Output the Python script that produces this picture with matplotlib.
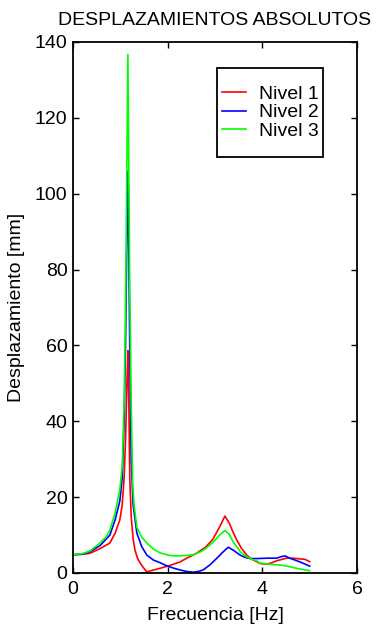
import numpy as np
import matplotlib.pyplot as plt
from matplotlib.patches import Rectangle

plt.rcParams['font.family'] = ['Liberation Sans', 'DejaVu Sans']

# Respuesta en frecuencia de cada nivel
f_n1 = [0, 0.2, 0.36, 0.57, 0.78, 0.89, 0.99, 1.04, 1.08, 1.11, 1.14, 1.16,
        1.18, 1.20, 1.23, 1.27, 1.31, 1.36, 1.42, 1.5, 1.56, 1.8, 2.0, 2.26,
        2.45, 2.61, 2.8, 2.95, 3.1, 3.21, 3.3, 3.38, 3.46, 3.56, 3.67, 3.78,
        3.88, 3.95, 4.08, 4.2, 4.3, 4.51, 4.65, 4.8, 4.9, 5.0]
d_n1 = [4.8, 4.9, 5.2, 6.4, 7.9, 10.5, 14, 18, 25, 35, 50, 58.6,
        45, 25, 14.8, 9, 6, 4, 2.6, 1.2, 0.3, 1.1, 1.8, 2.9,
        4.2, 5.2, 6.8, 8.8, 12.2, 15.0, 13.2, 10.8, 8.7, 6.5, 4.7, 3.6,
        3.0, 2.5, 2.3, 2.7, 3.2, 3.9, 3.9, 3.7, 3.6, 3.0]

f_n2 = [0, 0.2, 0.36, 0.57, 0.78, 0.89, 0.99, 1.04, 1.08, 1.11, 1.14, 1.16,
        1.18, 1.20, 1.23, 1.27, 1.35, 1.45, 1.56, 1.7, 1.84, 2.0, 2.12, 2.26,
        2.4, 2.54, 2.65, 2.75, 2.9, 3.04, 3.15, 3.28, 3.4, 3.53, 3.64, 3.74,
        3.9, 4.1, 4.3, 4.4, 4.48, 4.58, 4.8, 5.0]
d_n2 = [4.8, 5.0, 5.6, 7.2, 10, 14, 19, 25, 40, 60, 90, 106,
        85, 58, 30, 18, 10.5, 7, 4.7, 3.4, 2.7, 1.8, 1.3, 0.8,
        0.4, 0.2, 0.4, 0.8, 2.2, 3.9, 5.3, 6.8, 5.9, 4.7, 4.1, 3.8,
        3.8, 3.9, 3.9, 4.3, 4.5, 3.9, 2.9, 1.8]

f_n3 = [0, 0.2, 0.36, 0.57, 0.7, 0.78, 0.89, 0.99, 1.04, 1.08, 1.11, 1.14,
        1.16, 1.18, 1.20, 1.23, 1.26, 1.29, 1.35, 1.45, 1.56, 1.7, 1.84, 2.05,
        2.2, 2.4, 2.54, 2.7, 2.82, 2.95, 3.1, 3.21, 3.3, 3.38, 3.46, 3.55,
        3.67, 3.78, 3.88, 3.95, 4.16, 4.44, 4.6, 4.73, 5.0]
d_n3 = [4.8, 5.1, 5.8, 7.9, 9.5, 11.3, 15.8, 22, 28, 45, 70, 110,
        136.7, 105, 75, 45, 24, 18, 12, 9.5, 7.9, 6.3, 5.3, 4.6,
        4.5, 4.6, 4.8, 5.6, 6.6, 8.0, 10.0, 11.2, 10.2, 8.3, 6.9, 5.4,
        4.3, 3.6, 3.2, 2.6, 2.3, 2.0, 1.6, 1.2, 0.6]

fig = plt.figure(figsize=(3.77, 6.32), dpi=100)
ax = fig.add_axes([0.1936, 0.0934, 0.7533, 0.8402])

ax.plot(f_n1, d_n1, color='#ff0000', lw=1.2, label='Nivel 1')
ax.plot(f_n2, d_n2, color='#0000ff', lw=1.2, label='Nivel 2')
ax.plot(f_n3, d_n3, color='#00ff00', lw=1.2, label='Nivel 3')

ax.set_xlim(0, 6)
ax.set_ylim(0, 140)
ax.set_xticks(np.arange(0, 7, 2))
ax.set_yticks(np.arange(0, 141, 20))
ax.tick_params(direction='in', top=True, right=True, length=4, width=1,
               labelsize=14)
ax.tick_params(axis='x', pad=6)
ax.tick_params(axis='y', pad=4)
for s in ax.spines.values():
    s.set_linewidth(1.3)

ax.set_title('DESPLAZAMIENTOS ABSOLUTOS', fontsize=14, pad=12)
ax.set_xlabel('Frecuencia [Hz]', fontsize=14, labelpad=6)
ax.set_ylabel('Desplazamiento [mm]', fontsize=14, labelpad=7)

# marco de la leyenda
ax.add_patch(Rectangle((0.507, 0.783), 0.373, 0.168, transform=ax.transAxes,
                       facecolor='white', edgecolor='black', lw=1.3, zorder=5))
leg = ax.legend(loc='center', bbox_to_anchor=(0.694, 0.867), fontsize=14,
                frameon=False, handlelength=1.25, handletextpad=0.65,
                labelspacing=0.05, borderpad=0, borderaxespad=0)
leg.set_zorder(6)

plt.savefig('out.png', dpi=100)
